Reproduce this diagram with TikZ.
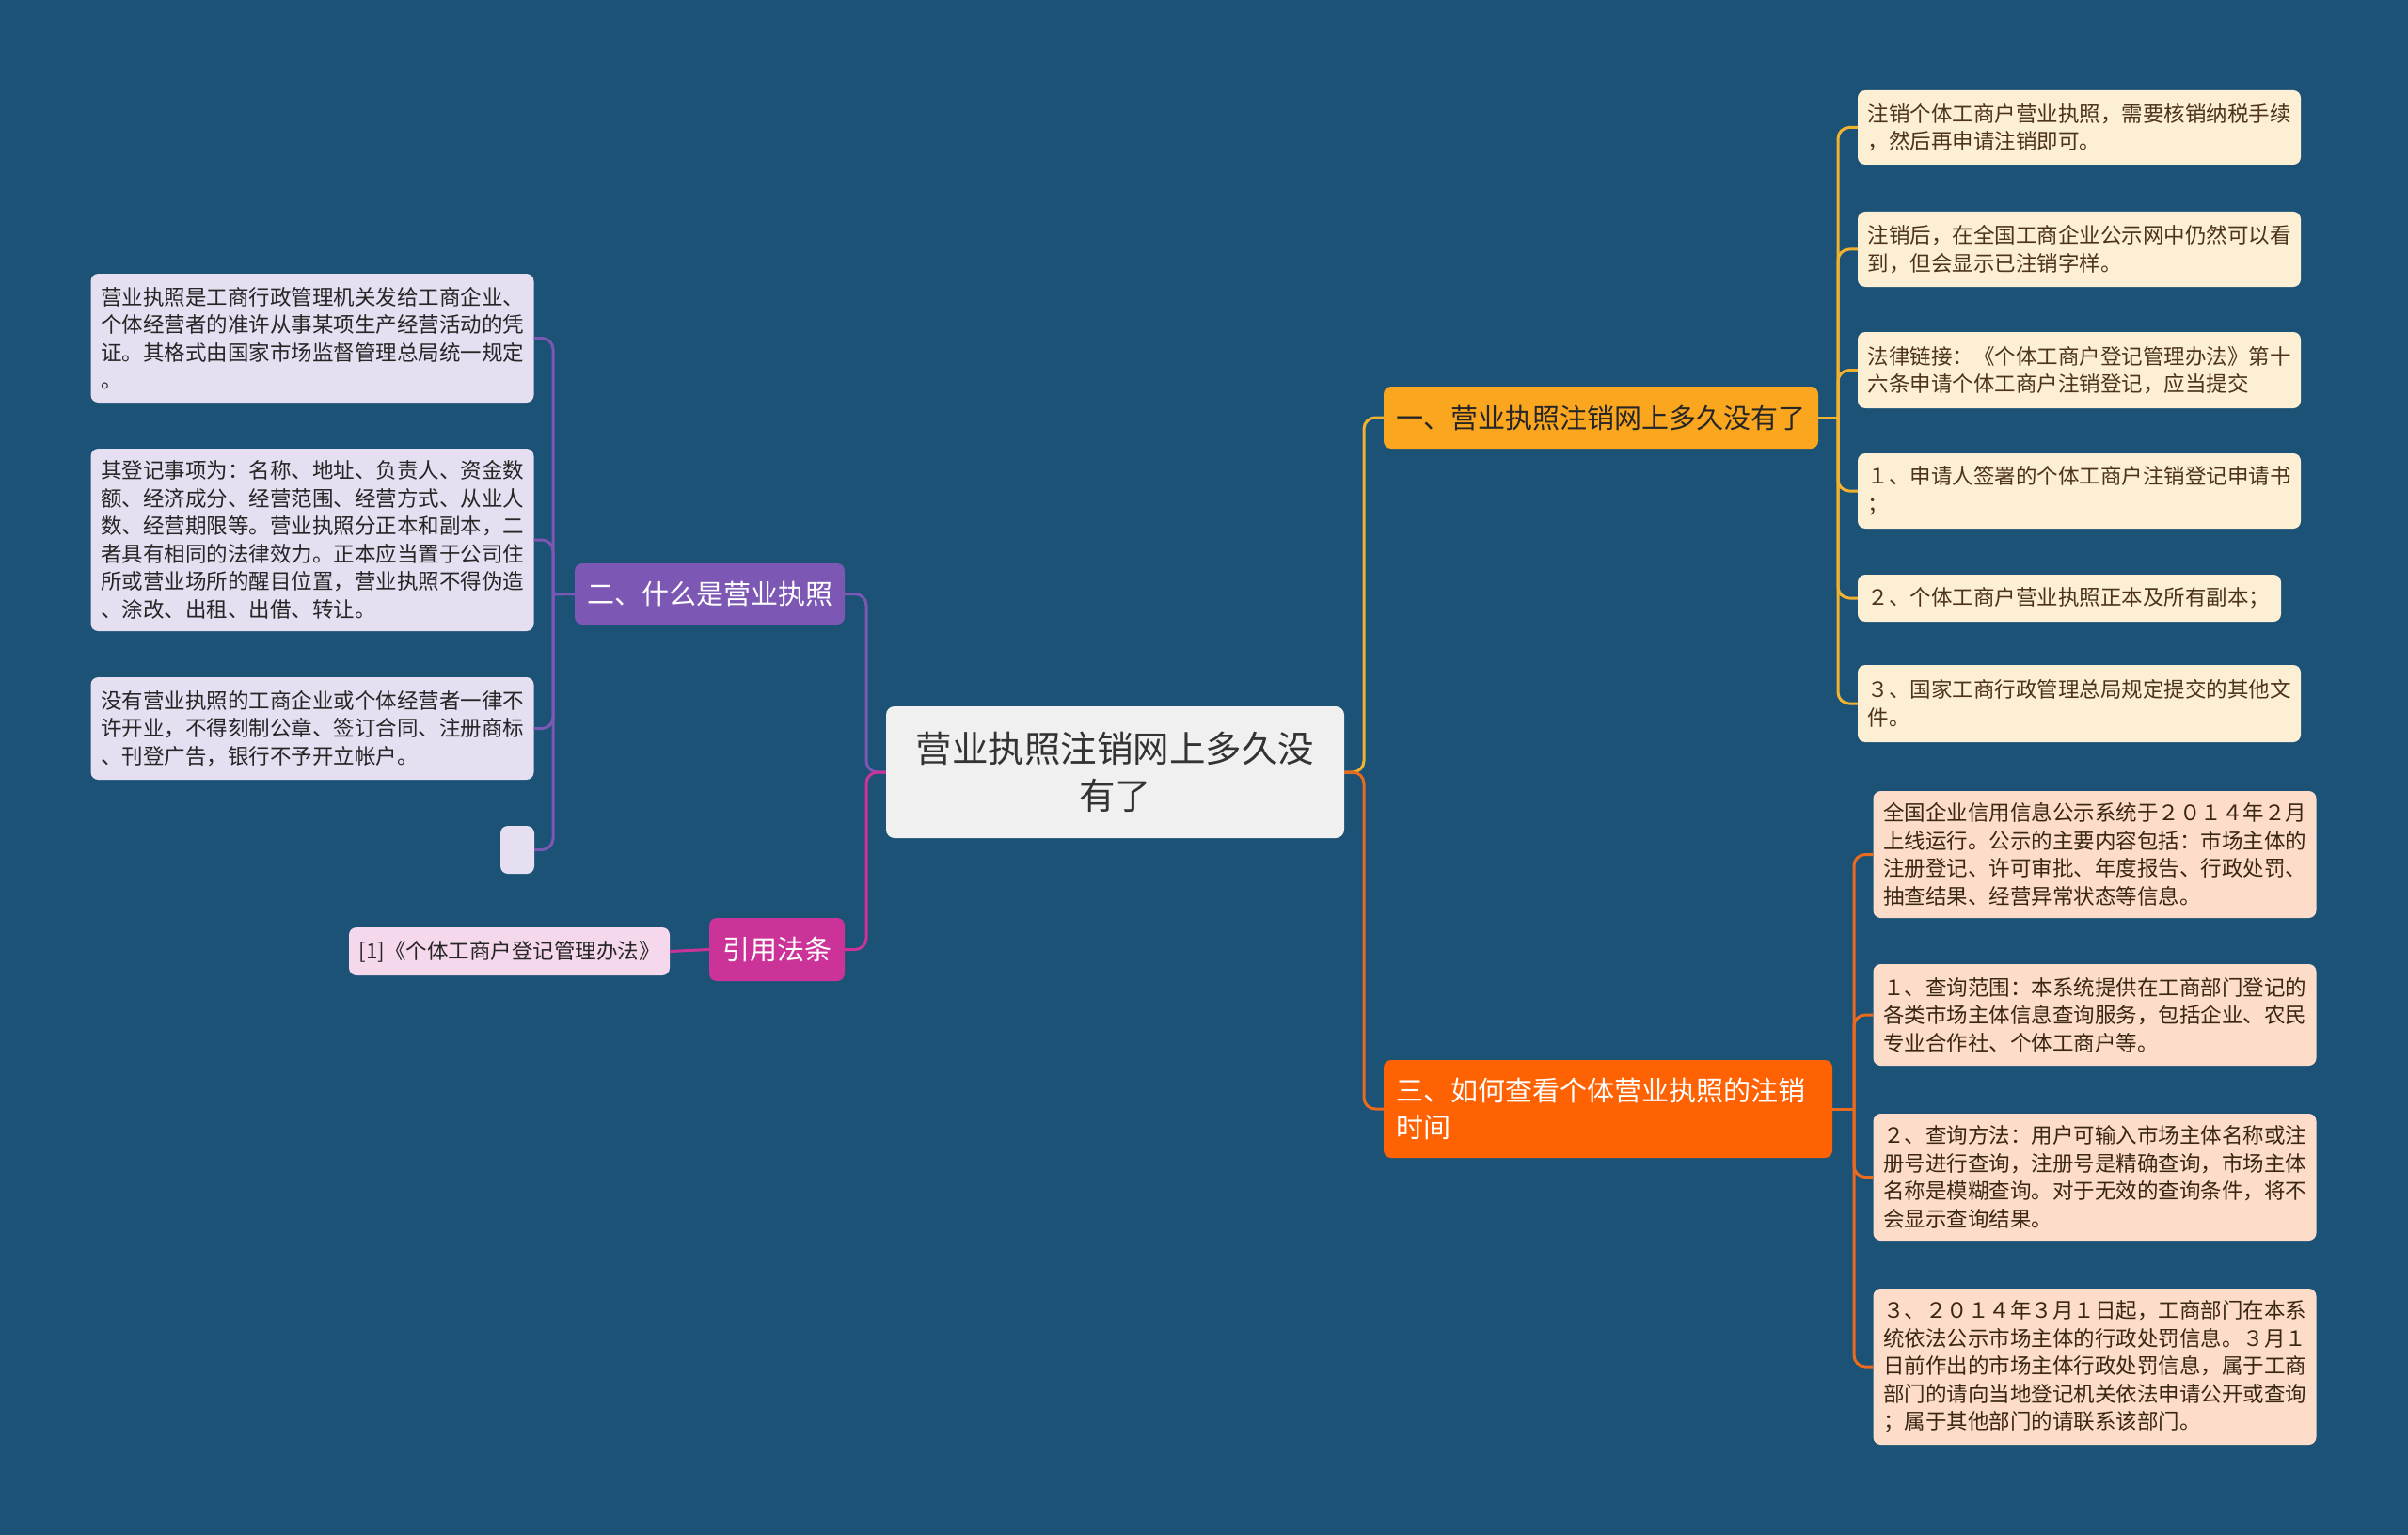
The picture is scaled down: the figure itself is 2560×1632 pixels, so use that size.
\documentclass[tikz,border=0pt]{standalone}
\usepackage{fontspec}
\setmainfont{Noto Sans CJK SC}
\usepackage{xcolor}
\usepackage{tikz}
\usetikzlibrary{positioning}

\definecolor{bgBlue}{HTML}{1B5276}
\definecolor{topicGray}{HTML}{F0F0F0}
\definecolor{yelBranch}{HTML}{FAA61E}
\definecolor{orgBranch}{HTML}{FF6203}
\definecolor{purBranch}{HTML}{7D57B4}
\definecolor{magBranch}{HTML}{CC3399}
\definecolor{yelLine}{HTML}{F2B230}
\definecolor{orgLine}{HTML}{EA6A1E}
\definecolor{lavLeaf}{HTML}{E5DFF1}
\definecolor{pinkLeaf}{HTML}{F6D8EC}
\definecolor{creamLeaf}{HTML}{FDEFD4}
\definecolor{peachLeaf}{HTML}{FDDDC9}

\begin{document}
\begin{tikzpicture}[x=1pt, y=-1pt,
  topic/.style={fill=topicGray, text=black!80, rounded corners=9pt, align=center,
                text width=450pt, minimum width=487pt, minimum height=140pt,
                font=\fontsize{38.5}{50.5}\selectfont},
  branch/.style={rounded corners=8pt, align=left, inner xsep=13pt,
                 font=\fontsize{29}{39}\selectfont},
  leaf/.style={rounded corners=8pt, align=left, inner xsep=10.5pt, text width=450pt,
               font=\fontsize{22.5}{29.5}\selectfont},
  lnY/.style={line width=3pt, yelLine, rounded corners=12pt},
  lnO/.style={line width=3pt, orgLine, rounded corners=12pt},
  lnP/.style={line width=3pt, purBranch, rounded corners=12pt},
  lnM/.style={line width=3pt, magBranch, rounded corners=12pt},
]
\useasboundingbox (0,0) rectangle (2560,1632);
\fill[bgBlue] (0,0) rectangle (2560,1632);

% centre
\node[topic] (cen) at (1185.5,821) {营业执照注销网上多久没\\有了};

% branches
\node[branch, fill=yelBranch, text=black!85, minimum width=462pt, minimum height=66pt]
  (b1) at (1702,444) {一、营业执照注销网上多久没有了};
\node[branch, fill=orgBranch, text=white, text width=451pt, minimum height=104pt]
  (b3) at (1709.5,1179) {三、如何查看个体营业执照的注销\\时间};
\node[branch, fill=purBranch, text=white, minimum width=287pt, minimum height=65pt]
  (b2) at (754.5,631.5) {二、什么是营业执照};
\node[branch, fill=magBranch, text=white, minimum width=144pt, minimum height=67pt]
  (b4) at (826,1009.5) {引用法条};

% left leaves
\node[leaf, fill=lavLeaf, text=black!85, minimum height=137pt] (l1) at (332,359.5)
  {营业执照是工商行政管理机关发给工商企业、\\个体经营者的准许从事某项生产经营活动的凭\\证。其格式由国家市场监督管理总局统一规定\\。};
\node[leaf, fill=lavLeaf, text=black!85, minimum height=194pt] (l2) at (332,574)
  {其登记事项为：名称、地址、负责人、资金数\\额、经济成分、经营范围、经营方式、从业人\\数、经营期限等。营业执照分正本和副本，二\\者具有相同的法律效力。正本应当置于公司住\\所或营业场所的醒目位置，营业执照不得伪造\\、涂改、出租、出借、转让。};
\node[leaf, fill=lavLeaf, text=black!85, minimum height=109pt] (l3) at (332,774.5)
  {没有营业执照的工商企业或个体经营者一律不\\许开业，不得刻制公章、签订合同、注册商标\\、刊登广告，银行不予开立帐户。};
\node[leaf, fill=lavLeaf, text width=15pt, minimum height=51pt] (l4) at (550,903.5) {};
\node[leaf, fill=pinkLeaf, text=black!85, text width=320pt, minimum height=51pt] (ref) at (541.5,1011.5)
  {[1]《个体工商户登记管理办法》};

% right leaves, branch one
\node[leaf, fill=creamLeaf, text=brown!40!black, minimum height=79pt] (r1a) at (2210.5,135.5)
  {注销个体工商户营业执照，需要核销纳税手续\\，然后再申请注销即可。};
\node[leaf, fill=creamLeaf, text=brown!40!black, minimum height=80pt] (r1b) at (2210.5,265)
  {注销后，在全国工商企业公示网中仍然可以看\\到，但会显示已注销字样。};
\node[leaf, fill=creamLeaf, text=brown!40!black, minimum height=81pt] (r1c) at (2210.5,393.5)
  {法律链接：《个体工商户登记管理办法》第十\\六条申请个体工商户注销登记，应当提交};
\node[leaf, fill=creamLeaf, text=brown!40!black, minimum height=80pt] (r1d) at (2210.5,522)
  {１、申请人签署的个体工商户注销登记申请书\\；};
\node[leaf, fill=creamLeaf, text=brown!40!black, text width=429pt, minimum height=50pt] (r1e) at (2200,636)
  {２、个体工商户营业执照正本及所有副本；};
\node[leaf, fill=creamLeaf, text=brown!40!black, minimum height=82pt] (r1f) at (2210.5,748)
  {３、国家工商行政管理总局规定提交的其他文\\件。};

% right leaves, branch three
\node[leaf, fill=peachLeaf, text=brown!30!black, minimum height=135pt] (r3a) at (2227,908.5)
  {全国企业信用信息公示系统于２０１４年２月\\上线运行。公示的主要内容包括：市场主体的\\注册登记、许可审批、年度报告、行政处罚、\\抽查结果、经营异常状态等信息。};
\node[leaf, fill=peachLeaf, text=brown!30!black, minimum height=108pt] (r3b) at (2227,1079)
  {１、查询范围：本系统提供在工商部门登记的\\各类市场主体信息查询服务，包括企业、农民\\专业合作社、个体工商户等。};
\node[leaf, fill=peachLeaf, text=brown!30!black, minimum height=135pt] (r3c) at (2227,1251.5)
  {２、查询方法：用户可输入市场主体名称或注\\册号进行查询，注册号是精确查询，市场主体\\名称是模糊查询。对于无效的查询条件，将不\\会显示查询结果。};
\node[leaf, fill=peachLeaf, text=brown!30!black, minimum height=166pt] (r3d) at (2227,1453)
  {３、２０１４年３月１日起，工商部门在本系\\统依法公示市场主体的行政处罚信息。３月１\\日前作出的市场主体行政处罚信息，属于工商\\部门的请向当地登记机关依法申请公开或查询\\；属于其他部门的请联系该部门。};

% junctions
\coordinate (cR) at (1450,821);
\coordinate (cL) at (921,821);
\coordinate (b1J) at (1954,444);
\coordinate (b3J) at (1971,1179);
\coordinate (b2J) at (588,632);

% connectors
\draw[lnY] (cen.east) -- (cR) |- (b1.west);
\draw[lnO] (cen.east) -- (cR) |- (b3.west);
\draw[lnP] (cen.west) -- (cL) |- (b2.east);
\draw[lnM] (cen.west) -- (cL) |- (b4.east);
\draw[lnM] (b4.west) -- (ref.east);

\draw[lnP] (b2.west) -- (b2J);
\draw[lnP] (b2J) |- (l1.east);
\draw[lnP] (b2J) |- (l2.east);
\draw[lnP] (b2J) |- (l3.east);
\draw[lnP] (b2J) |- (l4.east);

\draw[lnY] (b1.east) -- (b1J);
\draw[lnY] (b1J) |- (r1a.west);
\draw[lnY] (b1J) |- (r1b.west);
\draw[lnY] (b1J) |- (r1c.west);
\draw[lnY] (b1J) |- (r1d.west);
\draw[lnY] (b1J) |- (r1e.west);
\draw[lnY] (b1J) |- (r1f.west);

\draw[lnO] (b3.east) -- (b3J);
\draw[lnO] (b3J) |- (r3a.west);
\draw[lnO] (b3J) |- (r3b.west);
\draw[lnO] (b3J) |- (r3c.west);
\draw[lnO] (b3J) |- (r3d.west);
\end{tikzpicture}
\end{document}
